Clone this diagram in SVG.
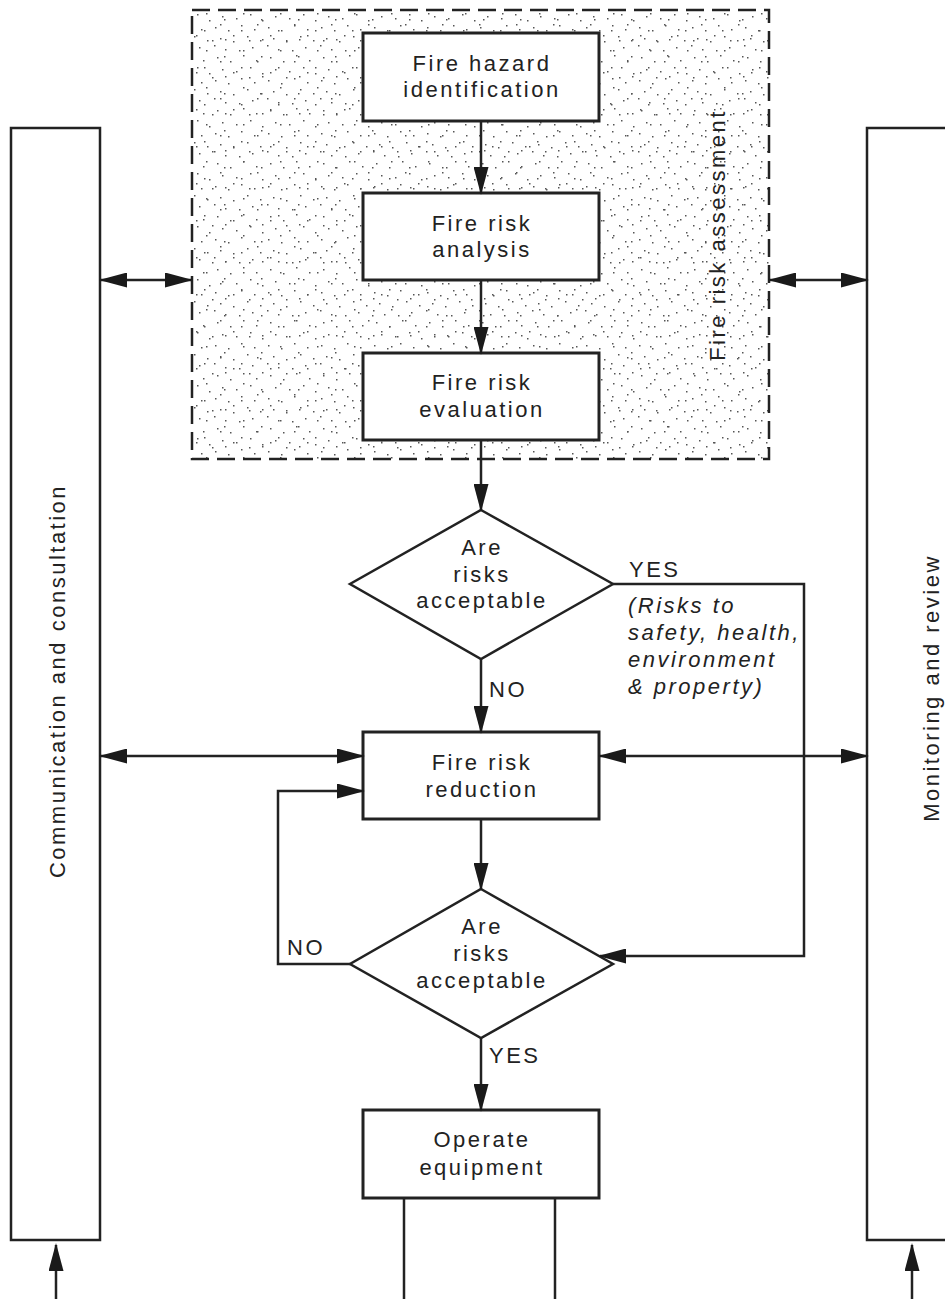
<svg xmlns="http://www.w3.org/2000/svg" width="945" height="1299" viewBox="0 0 945 1299">
  <style>
    .t { font-family: "Liberation Sans", Arial, sans-serif; font-size: 22px; letter-spacing: 2.5px; fill: #222; }
    .c { text-anchor: middle; }
    .i { font-style: italic; }
    .box { fill: #fff; stroke: #222; stroke-width: 3; }
    .col { fill: #fff; stroke: #222; stroke-width: 2.5; }
    .ln { fill: none; stroke: #222; stroke-width: 2.5; }
    .arr { fill: none; stroke: #222; stroke-width: 2.5; marker-end: url(#ah); }
    .darr { fill: none; stroke: #222; stroke-width: 2.5; marker-end: url(#ah); marker-start: url(#ah); }
  </style>
  <defs>
    <marker id="ah" viewBox="0 0 28 15" markerWidth="28" markerHeight="15" refX="26" refY="7.5" markerUnits="userSpaceOnUse" orient="auto-start-reverse">
      <path d="M0,0 L28,7.5 L0,15 z" fill="#1a1a1a"/>
    </marker>
    <pattern id="dotsA" width="37" height="37" patternUnits="userSpaceOnUse">
      <g fill="#555">
        <rect x="3" y="2" width="1.5" height="1.5"/><rect x="27" y="3" width="1.5" height="1.5"/>
        <rect x="21" y="13" width="1.5" height="1.5"/><rect x="2" y="19" width="1.5" height="1.5"/>
        <rect x="35" y="24" width="1.5" height="1.5"/><rect x="19" y="30" width="1.5" height="1.5"/>
        <rect x="11" y="35" width="1.5" height="1.5"/>
      </g>
    </pattern>
    <pattern id="dotsB" width="53" height="53" patternUnits="userSpaceOnUse">
      <g fill="#555">
        <rect x="5" y="4" width="1.5" height="1.5"/><rect x="18" y="8" width="1.5" height="1.5"/>
        <rect x="31" y="2" width="1.5" height="1.5"/><rect x="44" y="7" width="1.5" height="1.5"/>
        <rect x="10" y="16" width="1.5" height="1.5"/><rect x="24" y="18" width="1.5" height="1.5"/>
        <rect x="38" y="14" width="1.5" height="1.5"/><rect x="50" y="20" width="1.5" height="1.5"/>
        <rect x="3" y="27" width="1.5" height="1.5"/><rect x="16" y="30" width="1.5" height="1.5"/>
        <rect x="29" y="25" width="1.5" height="1.5"/><rect x="42" y="29" width="1.5" height="1.5"/>
        <rect x="8" y="38" width="1.5" height="1.5"/><rect x="21" y="41" width="1.5" height="1.5"/>
        <rect x="35" y="36" width="1.5" height="1.5"/><rect x="48" y="40" width="1.5" height="1.5"/>
        <rect x="13" y="49" width="1.5" height="1.5"/><rect x="27" y="50" width="1.5" height="1.5"/>
        <rect x="40" y="47" width="1.5" height="1.5"/><rect x="2" y="45" width="1.5" height="1.5"/>
      </g>
    </pattern>
  </defs>
  <rect width="945" height="1299" fill="#fff"/>

  <g id="fire-risk-assessment">
    <rect x="192" y="10" width="577" height="449" fill="url(#dotsA)"/>
    <rect x="192" y="10" width="577" height="449" fill="url(#dotsB)"/>
    <rect x="192" y="10" width="577" height="449" fill="none" stroke="#222" stroke-width="2.5" stroke-dasharray="18 8"/>
    <text class="t c" transform="translate(725,235) rotate(-90)">Fire risk assessment</text>
  </g>

  <g id="communication-consultation">
    <rect class="col" x="11" y="128" width="89" height="1112"/>
    <text class="t c" transform="translate(65,681) rotate(-90)">Communication and consultation</text>
  </g>

  <g id="monitoring-review">
    <rect class="col" x="867" y="128" width="100" height="1112"/>
    <text class="t c" transform="translate(939,688) rotate(-90)">Monitoring and review</text>
  </g>

  <g id="fire-hazard-identification">
    <rect class="box" x="363" y="33" width="236" height="88"/>
    <text class="t c" x="482" y="71">Fire hazard</text>
    <text class="t c" x="482" y="97">identification</text>
  </g>

  <g id="fire-risk-analysis">
    <rect class="box" x="363" y="193" width="236" height="87"/>
    <text class="t c" x="482" y="231">Fire risk</text>
    <text class="t c" x="482" y="257">analysis</text>
  </g>

  <g id="fire-risk-evaluation">
    <rect class="box" x="363" y="353" width="236" height="87"/>
    <text class="t c" x="482" y="390">Fire risk</text>
    <text class="t c" x="482" y="417">evaluation</text>
  </g>

  <g id="decision-1">
    <polygon points="481,510 613,584 481,659 350,584" fill="#fff" stroke="#222" stroke-width="2.5"/>
    <text class="t c" x="482" y="555">Are</text>
    <text class="t c" x="482" y="582">risks</text>
    <text class="t c" x="482" y="608">acceptable</text>
  </g>

  <g id="fire-risk-reduction">
    <rect class="box" x="363" y="732" width="236" height="87"/>
    <text class="t c" x="482" y="770">Fire risk</text>
    <text class="t c" x="482" y="797">reduction</text>
  </g>

  <g id="decision-2">
    <polygon points="481,889 613,964 481,1038 350,964" fill="#fff" stroke="#222" stroke-width="2.5"/>
    <text class="t c" x="482" y="934">Are</text>
    <text class="t c" x="482" y="961">risks</text>
    <text class="t c" x="482" y="988">acceptable</text>
  </g>

  <g id="operate-equipment">
    <rect class="box" x="363" y="1110" width="236" height="88"/>
    <text class="t c" x="482" y="1147">Operate</text>
    <text class="t c" x="482" y="1175">equipment</text>
  </g>

  <g id="connectors">
    <path class="arr" d="M481,121 V193"/>
    <path class="arr" d="M481,280 V353"/>
    <path class="arr" d="M481,440 V510"/>
    <path class="arr" d="M481,659 V732"/>
    <path class="arr" d="M481,819 V889"/>
    <path class="arr" d="M481,1038 V1110"/>
    <path class="arr" d="M613,584 H804 V956 H600"/>
    <path class="arr" d="M350,964 H278 V791 H363"/>
    <path class="darr" d="M101,280 H191"/>
    <path class="darr" d="M770,280 H867"/>
    <path class="darr" d="M101,756 H363"/>
    <path class="darr" d="M600,756 H867"/>
    <path class="arr" d="M56,1299 V1245"/>
    <path class="arr" d="M912,1299 V1245"/>
    <path class="ln" d="M404,1198 V1299"/>
    <path class="ln" d="M555,1198 V1299"/>
    <text class="t" x="629" y="577">YES</text>
    <text class="t i" x="628" y="613">(Risks to</text>
    <text class="t i" x="628" y="640">safety, health,</text>
    <text class="t i" x="628" y="667">environment</text>
    <text class="t i" x="628" y="694">&amp; property)</text>
    <text class="t" x="489" y="697">NO</text>
    <text class="t" x="287" y="955">NO</text>
    <text class="t" x="489" y="1063">YES</text>
  </g>
</svg>
